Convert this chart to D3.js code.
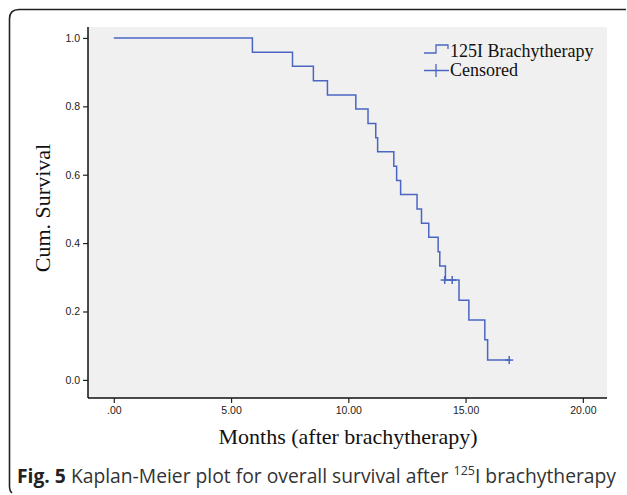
<!DOCTYPE html>
<html>
<head>
<meta charset="utf-8">
<script src="https://cdn.jsdelivr.net/npm/d3@7"></script>
<style>
  body { margin: 0; background: #fff; }
  svg { display: block; }
</style>
</head>
<body>
<div id="chart"></div>
<script>
// step times (months) and survival after each event
const eventTimes = [5.91, 7.62, 8.51, 9.11, 10.32, 10.84, 11.17, 11.25, 11.94, 12.06, 12.23,
                    12.93, 13.12, 13.43, 13.83, 13.90, 14.14, 14.72, 15.14, 15.82, 15.94];
const survival = [0.958, 0.917, 0.875, 0.833, 0.792, 0.750, 0.708, 0.667, 0.625, 0.583, 0.542,
                  0.500, 0.458, 0.417, 0.375, 0.333, 0.292, 0.233, 0.175, 0.117, 0.058];
const censorTimes = [14.11, 14.43, 16.86];
const censorSurv = [0.292, 0.292, 0.058];
const xTicks = [0, 5, 10, 15, 20];
const yTicks = [0, 0.2, 0.4, 0.6, 0.8, 1.0];

const W = 627, H = 495;
const plot = { left: 88, right: 607, top: 27, bottom: 398 };
const lineColor = "#4a66c2";

const svg = d3.select("#chart").append("svg")
    .attr("width", W)
    .attr("height", H);

// frame around figure (top + left with rounded corner)
svg.append("path")
    .attr("d", "M626,9.5 L19,9.5 Q9.5,9.5 9.5,19 L9.5,486 Q9.5,491 12,493")
    .attr("fill", "none")
    .attr("stroke", "#222")
    .attr("stroke-width", 1.6);

const x = d3.scaleLinear().domain([-1.1, 21.03]).range([plot.left, plot.right]);
const y = d3.scaleLinear().domain([-0.053, 1.032]).range([plot.bottom, plot.top]);

svg.append("rect")
    .attr("x", plot.left)
    .attr("y", plot.top)
    .attr("width", plot.right - plot.left)
    .attr("height", plot.bottom - plot.top)
    .attr("fill", "#f0f0f0");

// axes
const xAxis = d3.axisBottom(x)
    .tickValues(xTicks)
    .tickFormat(d => d === 0 ? ".00" : d3.format(".2f")(d))
    .tickSizeOuter(0)
    .tickSize(5)
    .tickPadding(4);

const gx = svg.append("g")
    .attr("transform", `translate(0, ${plot.bottom})`)
    .call(xAxis);

const yAxis = d3.axisLeft(y)
    .tickValues(yTicks)
    .tickFormat(d3.format(".1f"))
    .tickSizeOuter(0)
    .tickSize(5)
    .tickPadding(3);

const gy = svg.append("g")
    .attr("transform", `translate(${plot.left}, 0)`)
    .call(yAxis);

[gx, gy].forEach(g => {
    g.select(".domain").attr("stroke", "#111").attr("stroke-width", 1.5);
    g.selectAll(".tick line").attr("stroke", "#222").attr("stroke-width", 1.2);
    g.selectAll(".tick text")
        .attr("fill", "#222")
        .style("font-family", "'Liberation Sans', Arial, sans-serif")
        .style("font-size", "10.5px");
});
gy.select(".domain").attr("d", `M0,${plot.top}V${plot.bottom}`);
gx.select(".domain").attr("d", `M${plot.left},0H${plot.right}`);

// step curve
const pts = [[0, 1]];
let prev = 1;
eventTimes.forEach((t, i) => {
    pts.push([t, prev]);
    pts.push([t, survival[i]]);
    prev = survival[i];
});
pts.push([d3.max(censorTimes), prev]);

svg.append("path")
    .datum(pts)
    .attr("d", d3.line().x(d => x(d[0])).y(d => y(d[1])))
    .attr("fill", "none")
    .attr("stroke", lineColor)
    .attr("stroke-width", 1.5);

// censor marks
const cg = svg.append("g");
censorTimes.forEach((t, i) => {
    cg.append("line")
        .attr("x1", x(t)).attr("x2", x(t))
        .attr("y1", y(censorSurv[i]) - 4).attr("y2", y(censorSurv[i]) + 4)
        .attr("stroke", lineColor).attr("stroke-width", 1.5);
    cg.append("line")
        .attr("x1", x(t) - 4).attr("x2", x(t) + 4)
        .attr("y1", y(censorSurv[i])).attr("y2", y(censorSurv[i]))
        .attr("stroke", lineColor).attr("stroke-width", 1.5);
});

// legend
const lg = svg.append("g");
lg.append("path")
    .attr("d", "M424,53 H436 V45 H448 V49")
    .attr("fill", "none")
    .attr("stroke", lineColor)
    .attr("stroke-width", 1.3);
lg.append("path")
    .attr("d", "M424,70.5 H449 M436,64 V77")
    .attr("fill", "none")
    .attr("stroke", lineColor)
    .attr("stroke-width", 1.3);
lg.append("text")
    .attr("x", 450).attr("y", 57)
    .style("font-family", "'Liberation Serif', 'Times New Roman', serif")
    .style("font-size", "18px")
    .attr("fill", "#111")
    .text("125I Brachytherapy");
lg.append("text")
    .attr("x", 450).attr("y", 76)
    .style("font-family", "'Liberation Serif', 'Times New Roman', serif")
    .style("font-size", "18px")
    .attr("fill", "#111")
    .text("Censored");

// axis titles
svg.append("text")
    .attr("x", 348).attr("y", 444)
    .attr("text-anchor", "middle")
    .style("font-family", "'Liberation Serif', 'Times New Roman', serif")
    .style("font-size", "22px")
    .attr("fill", "#111")
    .text("Months (after brachytherapy)");

svg.append("text")
    .attr("transform", "translate(50, 208) rotate(-90)")
    .attr("text-anchor", "middle")
    .style("font-family", "'Liberation Serif', 'Times New Roman', serif")
    .style("font-size", "22px")
    .attr("fill", "#111")
    .text("Cum. Survival");

// caption
const cap = svg.append("text")
    .attr("x", 17).attr("y", 483)
    .style("font-family", "'Open Sans', 'Noto Sans', sans-serif")
    .style("font-size", "19.3px")
    .attr("fill", "#333");
cap.append("tspan").attr("font-weight", "bold").attr("fill", "#222").text("Fig. 5");
cap.append("tspan").text(" Kaplan-Meier plot for overall survival after ");
cap.append("tspan").attr("dy", -8).style("font-size", "12.5px").text("125");
cap.append("tspan").attr("dy", 8).text("I brachytherapy");
</script>
</body>
</html>
